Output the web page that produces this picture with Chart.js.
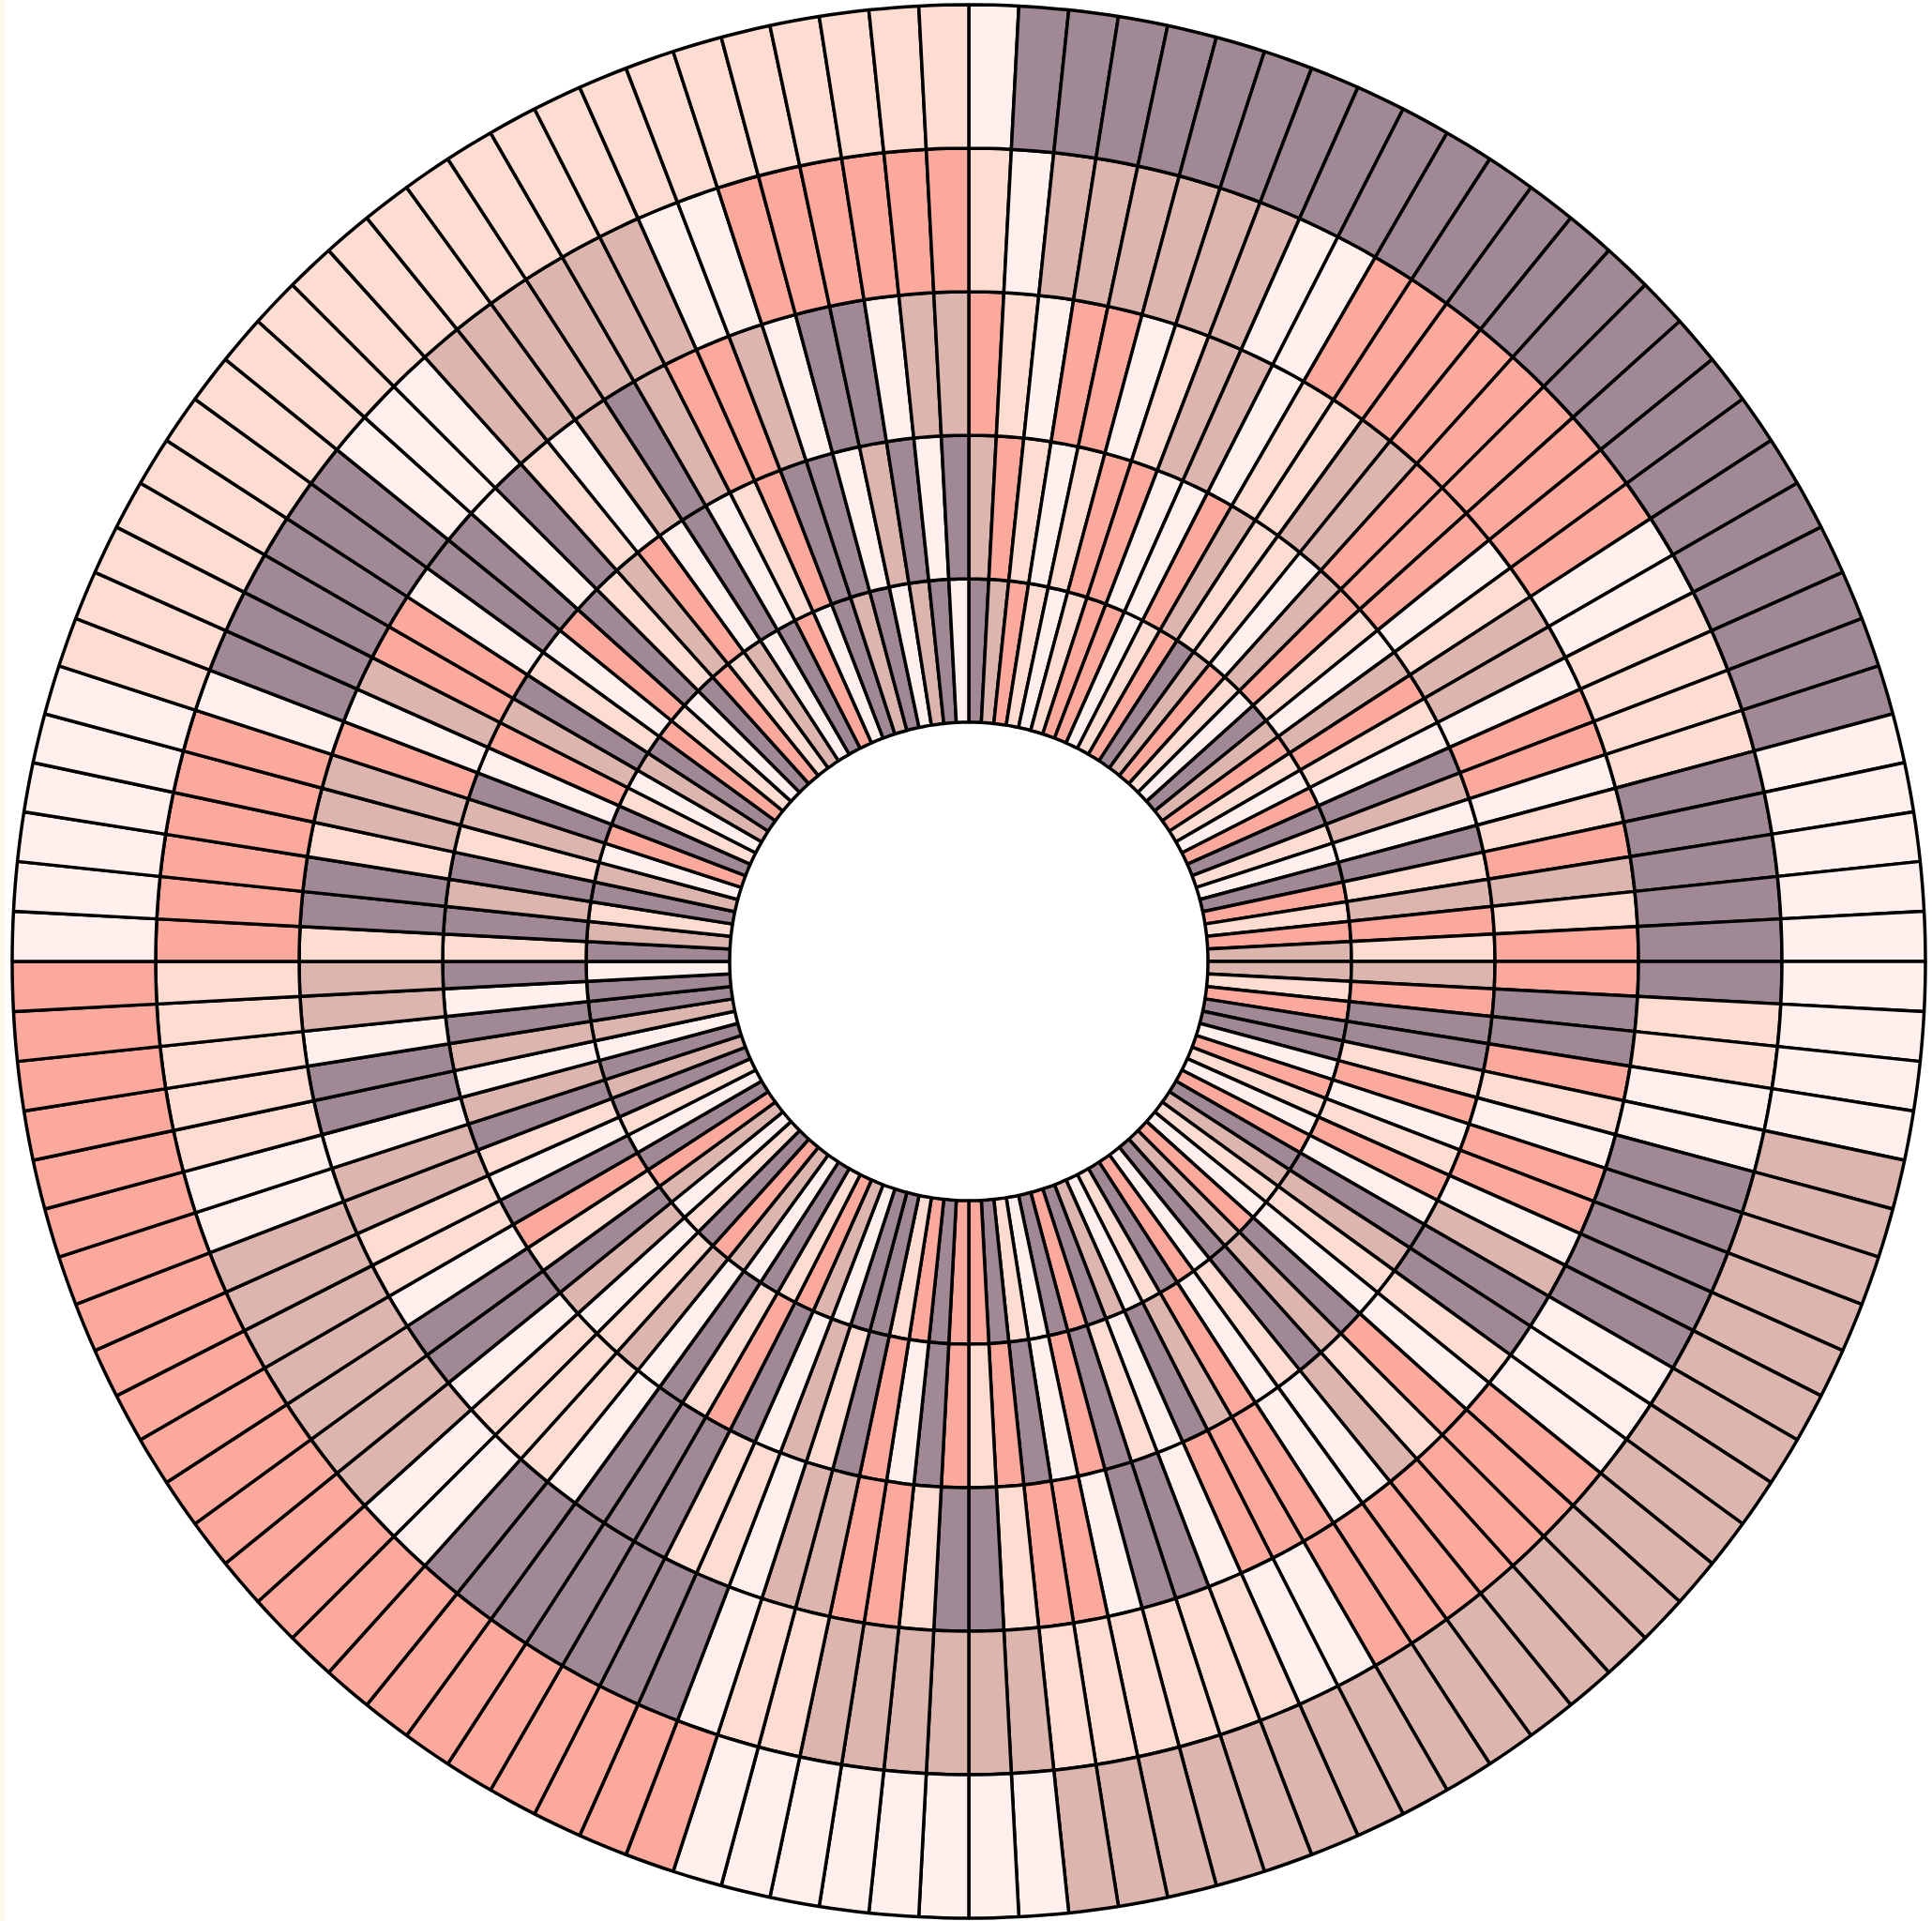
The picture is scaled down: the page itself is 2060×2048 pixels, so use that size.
<!DOCTYPE html>
<html>
<head>
<meta charset="utf-8">
<title>Ring heatmap</title>
<script src="https://cdn.jsdelivr.net/npm/chart.js@4.4.1/dist/chart.umd.min.js"></script>
<style>
    html, body { margin: 0; padding: 0; background: #ffffff; }
    #wrap { position: relative; width: 2060px; height: 2048px; }
    #edge { position: absolute; left: 0; top: 0; width: 5px; height: 2048px; background: #fdf9ef; }
</style>
</head>
<body>
<div id="wrap">
    <div id="edge"></div>
    <canvas id="ringChart"></canvas>
</div>
<script>
// colour levels, lightest to darkest
var levelColors = ['#fff0ed', '#fddcd1', '#dcb6ae', '#fba99d', '#a08894'];

// one value per 3 degree sector, clockwise from 12 o'clock (level index)
var ringOuter = [
    0, 4, 4, 4, 4, 4, 4, 4, 4, 4,
    4, 4, 4, 4, 4, 4, 4, 4, 4, 4,
    4, 4, 4, 4, 4, 0, 0, 0, 0, 0,
    0, 0, 0, 0, 2, 2, 2, 2, 2, 2,
    2, 2, 2, 2, 2, 2, 2, 2, 2, 2,
    2, 2, 2, 2, 2, 2, 2, 2, 0, 0,
    0, 0, 0, 0, 0, 0, 3, 3, 3, 3,
    3, 3, 3, 3, 3, 3, 3, 3, 3, 3,
    3, 3, 3, 3, 3, 3, 3, 3, 3, 3,
    0, 0, 0, 0, 0, 0, 1, 1, 1, 1,
    1, 1, 1, 1, 1, 1, 1, 1, 1, 1,
    1, 1, 1, 1, 1, 1, 1, 1, 1, 1
];
var ring2 = [
    1, 0, 2, 2, 2, 2, 2, 2, 0, 0,
    3, 3, 3, 3, 3, 3, 3, 3, 3, 0,
    0, 1, 1, 1, 1, 4, 4, 4, 4, 4,
    4, 1, 1, 0, 0, 4, 4, 4, 4, 4,
    0, 0, 0, 3, 3, 3, 3, 3, 3, 3,
    0, 0, 1, 1, 1, 1, 1, 1, 2, 2,
    2, 2, 2, 2, 1, 1, 0, 4, 4, 4,
    4, 4, 4, 4, 0, 0, 2, 2, 2, 2,
    2, 2, 2, 0, 0, 1, 1, 1, 1, 1,
    3, 3, 3, 3, 3, 3, 0, 4, 4, 4,
    4, 4, 4, 0, 0, 0, 2, 2, 2, 2,
    2, 2, 0, 0, 3, 3, 3, 3, 3, 3
];
var ring3 = [
    3, 1, 0, 3, 3, 0, 1, 2, 2, 0,
    1, 1, 2, 2, 3, 3, 3, 0, 1, 2,
    2, 0, 3, 3, 0, 1, 3, 2, 1, 3,
    3, 4, 4, 3, 1, 0, 3, 3, 0, 2,
    4, 4, 1, 0, 3, 1, 2, 0, 0, 3,
    3, 3, 0, 4, 4, 0, 3, 3, 1, 4,
    4, 1, 3, 3, 2, 2, 0, 1, 1, 4,
    4, 4, 0, 1, 1, 1, 0, 4, 4, 0,
    1, 1, 2, 2, 0, 4, 4, 0, 2, 2,
    1, 4, 4, 1, 2, 2, 3, 0, 2, 3,
    3, 0, 4, 4, 0, 4, 1, 0, 2, 4,
    2, 3, 3, 2, 0, 4, 4, 0, 2, 2
];
var ring4 = [
    2, 3, 1, 0, 1, 3, 3, 0, 0, 3,
    2, 1, 1, 0, 2, 3, 1, 0, 2, 3,
    1, 0, 4, 2, 0, 4, 1, 2, 3, 1,
    2, 3, 4, 4, 1, 3, 0, 1, 3, 0,
    4, 2, 1, 0, 4, 2, 4, 1, 0, 3,
    2, 4, 0, 1, 4, 3, 0, 4, 3, 1,
    3, 4, 0, 3, 4, 1, 2, 0, 4, 3,
    1, 4, 0, 2, 1, 0, 2, 4, 1, 3,
    4, 0, 1, 4, 2, 0, 2, 4, 0, 4,
    1, 4, 2, 4, 1, 2, 4, 0, 3, 2,
    4, 1, 0, 3, 4, 1, 2, 3, 0, 4,
    0, 1, 3, 4, 4, 0, 2, 4, 0, 4
];
var ringInner = [
    4, 2, 3, 1, 0, 1, 3, 3, 0, 1,
    3, 4, 2, 3, 1, 0, 4, 2, 3, 1,
    0, 3, 4, 1, 0, 4, 3, 1, 3, 2,
    2, 1, 3, 4, 4, 0, 3, 1, 0, 3,
    4, 2, 1, 0, 3, 2, 4, 0, 3, 4,
    1, 0, 2, 4, 3, 4, 0, 1, 4, 3,
    3, 4, 3, 1, 4, 4, 0, 2, 3, 1,
    4, 0, 2, 3, 4, 1, 0, 2, 3, 4,
    0, 1, 4, 2, 4, 0, 2, 4, 4, 0,
    4, 2, 1, 4, 2, 0, 3, 4, 1, 0,
    2, 4, 3, 1, 0, 4, 3, 1, 2, 0,
    4, 3, 0, 4, 2, 4, 0, 2, 4, 0
];

// outermost ring first: chart.js stacks doughnut datasets from the outside in
var rings = [ringOuter, ring2, ring3, ring4, ringInner];

function buildDataset(levels) {
    return {
        data: levels.map(function () { return 1; }),
        backgroundColor: levels.map(function (v) { return levelColors[v]; }),
        borderColor: '#000000',
        borderWidth: 3.5
    };
}

var ctx = document.getElementById('ringChart');
var ringChart = new Chart(ctx, {
    type: 'doughnut',
    data: {
        labels: ringOuter.map(function (v, i) { return 'sector ' + (i + 1); }),
        datasets: rings.map(buildDataset)
    },
    options: {
        responsive: true,
        maintainAspectRatio: false,
        animation: false,
        events: [],
        cutout: '25%',
        radius: 1020,
        layout: { padding: { left: 13, right: 7, top: 5, bottom: 3 } },
        plugins: {
            legend: { display: false },
            tooltip: { enabled: false }
        }
    }
});
</script>
</body>
</html>
